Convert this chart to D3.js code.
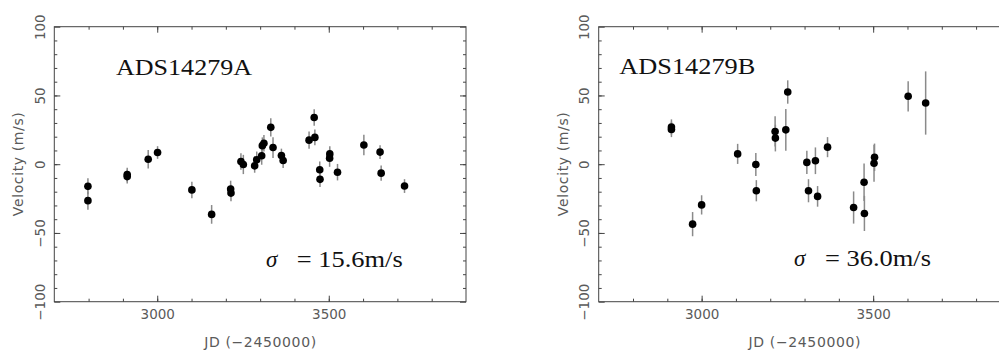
<!DOCTYPE html>
<html><head><meta charset="utf-8">
<script src="https://cdn.jsdelivr.net/npm/d3@7"></script>
<style>
html,body{margin:0;padding:0;background:#fff;}
svg{display:block;}
</style></head>
<body>
<script>
// ---- data ----
const panelNames = ["ADS14279A", "ADS14279B"];
const sigmaLabels = ["= 15.6m/s", "= 36.0m/s"];

const leftJD  = [2798, 2798, 2912.5, 2912.5, 2973.7, 3001, 3101, 3158.6, 3214, 3215, 3244, 3251, 3284, 3290, 3304.5, 3306.4, 3311, 3331, 3337.5, 3362, 3367, 3442.6, 3457.5, 3459.5, 3473.7, 3474.5, 3502.5, 3503, 3525.5, 3602.3, 3649.5, 3652.7, 3720.8];
const leftV   = [-16.1, -26.5, -7.5, -9, 3.6, 8.5, -18.7, -36.5, -18, -21, 2, -0.2, -1.2, 3.2, 6.1, 13.5, 15.2, 26.8, 12.1, 6.3, 2.7, 17.5, 34, 19.5, -4, -11, 4.4, 7.5, -5.8, 14, 8.8, -6.5, -15.9];
const leftErr = [5.8, 6.6, 5, 5, 6.7, 4.6, 6, 6.8, 6, 6, 6, 7, 5, 6, 6.5, 6, 6, 6.7, 7.5, 5, 5.5, 6.3, 6, 5.7, 6, 5.6, 6.3, 5.6, 6, 7.5, 5, 5.5, 5];

const rightJD  = [2912, 2912, 2973.7, 3000, 3105, 3158, 3159.5, 3214.2, 3215, 3245.4, 3251, 3306.7, 3311.5, 3331.7, 3338, 3367, 3443, 3473.5, 3474.5, 3502.5, 3504, 3602, 3653];
const rightV   = [27, 25.3, -43.6, -29.6, 7.5, -0.2, -19.3, 23.8, 19, 25, 52.5, 1.3, -19.3, 2.5, -23.4, 12.4, -31.5, -13.1, -35.8, 0.7, 5, 49.4, 44.5];
const rightErr = [5.6, 5.6, 8.8, 7, 7.3, 8.4, 7.7, 11, 9.7, 15.2, 8.5, 8.5, 8.4, 9.7, 7.5, 7.3, 11.7, 13.6, 12.8, 13.5, 10, 11, 23];

const xDomain = [2700, 3900];
const yDomain = [-100, 100];
const xMajorTicks = [3000, 3500];
const yMajorTicks = [-100, -50, 0, 50, 100];
const xMinorTicks = d3.range(2800, 3900, 100);
const yMinorTicks = d3.range(-90, 100, 10);

const xTitle = "JD (\u22122450000)";
const yTitle = "Velocity (m/s)";

// ---- layout ----
const W = 999, H = 352;
const svg = d3.select("body").append("svg").attr("width", W).attr("height", H);

const panels = [
  {left: 54.3, jd: leftJD, v: leftV, err: leftErr, name: panelNames[0], sig: sigmaLabels[0],
   nameX: 116, nameY: 75, sigX: 266, eqX: 296.7, eqY: 267},
  {left: 598.7, jd: rightJD, v: rightV, err: rightErr, name: panelNames[1], sig: sigmaLabels[1],
   nameX: 619.3, nameY: 74, sigX: 794, eqX: 825, eqY: 266}
];
const plotW = 411.7, plotTop = 26.7, plotBottom = 301.7;
const frameColor = "#444", labelColor = "#5a5a5a";
const labelFont = "'DejaVu Sans', sans-serif";
const fmt = d3.format("d");

panels.forEach(p => {
  const x = d3.scaleLinear(xDomain, [p.left, p.left + plotW]);
  const y = d3.scaleLinear(yDomain, [plotBottom, plotTop]);
  const g = svg.append("g");

  g.append("rect").attr("x", p.left).attr("y", plotTop).attr("width", plotW).attr("height", plotBottom - plotTop)
    .attr("fill", "none").attr("stroke", frameColor).attr("stroke-width", 1);

  function styleAxis(sel) {
    sel.select(".domain").remove();
    sel.selectAll("line").attr("stroke", frameColor).attr("stroke-width", 1);
  }
  // minor ticks
  g.append("g").attr("transform", `translate(0,${plotBottom})`)
    .call(d3.axisBottom(x).tickValues(xMinorTicks).tickSize(-3).tickFormat("")).call(styleAxis);
  g.append("g").attr("transform", `translate(0,${plotTop})`)
    .call(d3.axisTop(x).tickValues(xMinorTicks).tickSize(-3).tickFormat("")).call(styleAxis);
  g.append("g").attr("transform", `translate(${p.left},0)`)
    .call(d3.axisLeft(y).tickValues(yMinorTicks).tickSize(-3).tickFormat("")).call(styleAxis);
  g.append("g").attr("transform", `translate(${p.left + plotW},0)`)
    .call(d3.axisRight(y).tickValues(yMinorTicks).tickSize(-3).tickFormat("")).call(styleAxis);

  // major ticks
  const xb = g.append("g").attr("transform", `translate(0,${plotBottom})`)
    .call(d3.axisBottom(x).tickValues(xMajorTicks).tickSize(-6).tickFormat(fmt)).call(styleAxis);
  xb.selectAll("text").attr("y", 17.5).attr("dy", null)
    .attr("fill", labelColor).style("font-family", labelFont).style("font-size", "13.5px");
  g.append("g").attr("transform", `translate(0,${plotTop})`)
    .call(d3.axisTop(x).tickValues(xMajorTicks).tickSize(-6).tickFormat("")).call(styleAxis);
  const yl = g.append("g").attr("transform", `translate(${p.left},0)`)
    .call(d3.axisLeft(y).tickValues(yMajorTicks).tickSize(-6).tickFormat(fmt)).call(styleAxis);
  yl.selectAll("text").attr("x", null).attr("dy", null).attr("text-anchor", "middle")
    .attr("transform", "translate(-9.5,0) rotate(-90)")
    .attr("fill", labelColor).style("font-family", labelFont).style("font-size", "13.5px");
  g.append("g").attr("transform", `translate(${p.left + plotW},0)`)
    .call(d3.axisRight(y).tickValues(yMajorTicks).tickSize(-6).tickFormat("")).call(styleAxis);

  // axis titles
  g.append("text").attr("x", p.left + plotW / 2).attr("y", 346.5).attr("text-anchor", "middle")
    .attr("fill", labelColor).style("font-family", labelFont).style("font-size", "14px")
    .attr("textLength", 112).attr("lengthAdjust", "spacing").text(xTitle);
  g.append("text").attr("transform", `translate(${p.left - 31},${(plotTop + plotBottom) / 2}) rotate(-90)`)
    .attr("text-anchor", "middle")
    .attr("fill", labelColor).style("font-family", labelFont).style("font-size", "14px")
    .attr("textLength", 104).attr("lengthAdjust", "spacing").text(yTitle);

  // data
  const pts = p.jd.map((j, i) => ({jd: j, v: p.v[i], e: p.err[i]}));
  g.append("g").selectAll("line").data(pts).join("line")
    .attr("x1", d => x(d.jd)).attr("x2", d => x(d.jd))
    .attr("y1", d => y(d.v + d.e)).attr("y2", d => y(d.v - d.e))
    .attr("stroke", "#8a8a8a").attr("stroke-width", 1.5);
  g.append("g").selectAll("circle").data(pts).join("circle")
    .attr("cx", d => x(d.jd)).attr("cy", d => y(d.v)).attr("r", 3.8).attr("fill", "#000");

  // labels
  g.append("text").attr("x", p.nameX).attr("y", p.nameY)
    .style("font-family", "'Liberation Serif', 'DejaVu Serif', serif").style("font-size", "23px")
    .attr("fill", "#111").attr("textLength", 136).attr("lengthAdjust", "spacingAndGlyphs").text(p.name);
  g.append("text").attr("x", p.sigX).attr("y", p.eqY)
    .style("font-family", "'Liberation Serif', 'DejaVu Serif', serif").style("font-size", "23px")
    .style("font-style", "italic").attr("fill", "#111").text("\u03c3");
  g.append("text").attr("x", p.eqX).attr("y", p.eqY)
    .style("font-family", "'Liberation Serif', 'DejaVu Serif', serif").style("font-size", "23px")
    .attr("fill", "#111").attr("textLength", 106).attr("lengthAdjust", "spacingAndGlyphs").text(p.sig);
});
</script>
</body></html>
